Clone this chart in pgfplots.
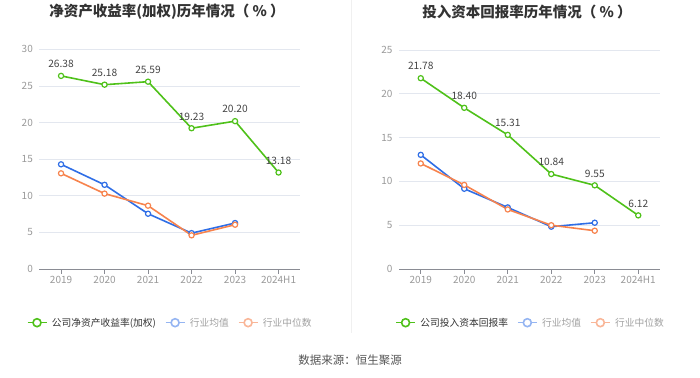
\documentclass[border=0pt]{standalone}
\usepackage{fontspec}
\setmainfont{Noto Sans CJK SC}
\usepackage{pgfplots}
\pgfplotsset{compat=1.18}
\definecolor{cgreen}{HTML}{4FC11A}
\definecolor{cblue}{HTML}{2F6EE6}
\definecolor{corange}{HTML}{F7834D}
\definecolor{lblue}{HTML}{95B5F2}
\definecolor{lorange}{HTML}{F9B698}
\definecolor{tickc}{HTML}{999999}
\definecolor{axgray}{HTML}{8A8C94}
\definecolor{gridc}{HTML}{E3E7EF}
\definecolor{titlec}{HTML}{333333}
\definecolor{labc}{HTML}{444444}
\definecolor{legdark}{HTML}{333333}
\definecolor{leglight}{HTML}{A0A0A0}
\definecolor{divc}{HTML}{F0F0F0}
\definecolor{srcc}{HTML}{555555}
\pgfplotsset{
  mychart/.style={
    scale only axis, width=261bp,
    xmin=-0.5, xmax=5.5, ymin=0,
    xtick={0,...,5}, xticklabels={2019,2020,2021,2022,2023,2024H1},
    axis x line*=bottom, axis y line*=left,
    y axis line style={draw=none},
    x axis line style={draw=axgray, line width=0.8bp},
    ytick style={draw=none},
    xtick style={draw=axgray, line width=0.8bp},
    tick align=outside, major tick length=5bp,
    ymajorgrids, grid style={draw=gridc, line width=0.8bp},
    ticklabel style={font=\fontsize{10bp}{12bp}\selectfont, text=tickc},
    /pgf/number format/assume math mode=true,
    yticklabel style={inner sep=0pt, xshift=-1.3bp},
    xticklabel style={inner sep=0pt, yshift=-2bp},
    every axis plot/.append style={line width=1.6bp, mark=*, mark size=2.6bp,
      mark options={fill=white, line width=1.2bp}},
    clip=false,
    legend columns=-1,
    legend style={draw=none, fill=none, inner sep=0pt, anchor=west,
      font=\fontsize{9.75bp}{11bp}\selectfont,
      nodes={inner sep=4.5bp},
      /tikz/every even column/.append style={column sep=4.4bp}},
  },
  green labels/.style={nodes near coords, point meta=explicit symbolic,
    every node near coord/.append style={font=\fontsize{10.2bp}{12bp}\selectfont,
      text=labc, anchor=south, inner sep=0pt, yshift=7.5bp}},
}
\begin{document}
\begin{tikzpicture}
\path[use as bounding box] (0,0) rectangle (700bp,378bp);
\draw[divc, line width=1bp] (351.5bp,45bp) -- (351.5bp,378bp);
\node[font=\fontsize{14.5bp}{17bp}\selectfont\bfseries, text=titlec] at (167bp,366bp) {净资产收益率(加权)历年情况（\:\%\:）};
\node[font=\fontsize{14.5bp}{17bp}\selectfont\bfseries, text=titlec] at (527bp,366bp) {投入资本回报率历年情况（\:\%\:）};
\node[font=\fontsize{11.5bp}{14bp}\selectfont, text=srcc] at (350bp,18bp) {数据来源：恒生聚源};

\begin{axis}[mychart, at={(39.3bp,109bp)}, anchor=south west,
  height=219.6bp, ymax=30, ytick={0,5,...,30},
  legend style={at={(-0.0490,-0.2445)}}]
\addlegendimage{legend image code/.code={\draw[cgreen, line width=1.6bp] (0bp,0bp) -- (19bp,0bp); \draw[cgreen, line width=1.6bp, fill=white] (9.5bp,0bp) circle (4bp);}}
\addlegendentry{\textcolor{legdark}{公司净资产收益率(加权)}}
\addlegendimage{legend image code/.code={\draw[lblue, line width=1.6bp] (0bp,0bp) -- (19bp,0bp); \draw[lblue, line width=1.6bp, fill=white] (9.5bp,0bp) circle (4bp);}}
\addlegendentry{\textcolor{leglight}{行业均值}}
\addlegendimage{legend image code/.code={\draw[lorange, line width=1.6bp] (0bp,0bp) -- (19bp,0bp); \draw[lorange, line width=1.6bp, fill=white] (9.5bp,0bp) circle (4bp);}}
\addlegendentry{\textcolor{leglight}{行业中位数}}
\addplot[cgreen, forget plot, green labels] coordinates {(0,26.38)[26.38] (1,25.18)[25.18] (2,25.59)[25.59] (3,19.23)[19.23] (4,20.20)[20.20] (5,13.18)[13.18]};
\addplot[cblue, forget plot] coordinates {(0,14.3) (1,11.5) (2,7.55) (3,4.9) (4,6.28)};
\addplot[corange, forget plot] coordinates {(0,13.07) (1,10.3) (2,8.65) (3,4.6) (4,6.05)};
\end{axis}

\begin{axis}[mychart, at={(399bp,109bp)}, anchor=south west,
  height=219bp, ymax=25, ytick={0,5,...,25},
  legend style={at={(-0.0150,-0.2452)}}]
\addlegendimage{legend image code/.code={\draw[cgreen, line width=1.6bp] (0bp,0bp) -- (19bp,0bp); \draw[cgreen, line width=1.6bp, fill=white] (9.5bp,0bp) circle (4bp);}}
\addlegendentry{\textcolor{legdark}{公司投入资本回报率}}
\addlegendimage{legend image code/.code={\draw[lblue, line width=1.6bp] (0bp,0bp) -- (19bp,0bp); \draw[lblue, line width=1.6bp, fill=white] (9.5bp,0bp) circle (4bp);}}
\addlegendentry{\textcolor{leglight}{行业均值}}
\addlegendimage{legend image code/.code={\draw[lorange, line width=1.6bp] (0bp,0bp) -- (19bp,0bp); \draw[lorange, line width=1.6bp, fill=white] (9.5bp,0bp) circle (4bp);}}
\addlegendentry{\textcolor{leglight}{行业中位数}}
\addplot[cgreen, forget plot, green labels] coordinates {(0,21.78)[21.78] (1,18.40)[18.40] (2,15.31)[15.31] (3,10.84)[10.84] (4,9.55)[9.55] (5,6.12)[6.12]};
\addplot[cblue, forget plot] coordinates {(0,13.03) (1,9.16) (2,7.03) (3,4.83) (4,5.28)};
\addplot[corange, forget plot] coordinates {(0,12.05) (1,9.6) (2,6.8) (3,5.0) (4,4.37)};
\end{axis}
\end{tikzpicture}
\end{document}
